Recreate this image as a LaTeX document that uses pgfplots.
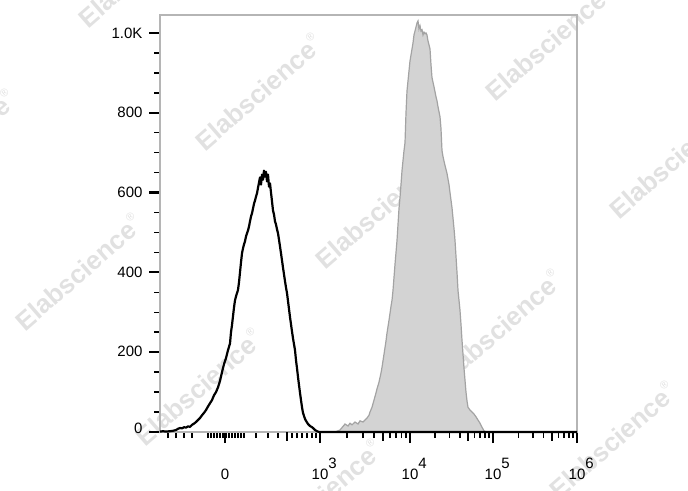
\documentclass[border=0pt]{standalone}
\usepackage{fontspec}
\setmainfont{Liberation Sans}
\usepackage{pgfplots}
\pgfplotsset{compat=1.18}
\definecolor{wm}{HTML}{E1E1E1}
\definecolor{fillg}{HTML}{D3D3D3}
\definecolor{lineg}{HTML}{A3A3A3}
\definecolor{framec}{HTML}{B5B5B5}
\newcommand\wmark[2]{\node[rotate=41, text=wm, inner sep=0pt, font=\fontsize{26}{30}\selectfont\bfseries] at (#1pt,{(490-#2)*1pt}) {Elabscience\raisebox{14pt}{\fontsize{11}{11}\selectfont\mdseries ®}};}
\newcommand\expo[2]{#1\rlap{\raisebox{11pt}{#2}}}
\begin{document}
\begin{tikzpicture}
\useasboundingbox (0,0) rectangle (688pt,490pt);
\wmark{258}{92}
\wmark{548}{42}
\wmark{141}{-31}
\wmark{-48}{148}
\wmark{672}{160}
\wmark{378}{210}
\wmark{78}{272}
\wmark{498}{328}
\wmark{198}{387}
\wmark{612}{440}
\wmark{318}{498}
\begin{axis}[
  at={(160pt,58pt)}, anchor=south west,
  scale only axis, width=417pt, height=417pt,
  xmin=160, xmax=577, ymin=0, ymax=1045,
  clip=false,
  axis line style={draw=framec, line width=1.5pt},
  tick style={black, line width=2.2pt},
  minor tick style={black, line width=1.5pt},
  tick align=outside,
  major tick length=11pt, minor tick length=6pt,
  xtick pos=bottom, ytick pos=left,
  ytick={0,200,400,600,800,1000},
  yticklabels={\raisebox{8pt}{0},\raisebox{1pt}{200},400,\raisebox{-2pt}{600},\raisebox{-4pt}{800},\raisebox{-6pt}{1.0K}},
  minor y tick num=3,
  xtick={225,320,410,493,577},
  xticklabels={0,\expo{10}{3},\expo{10}{4},\expo{10}{5},\expo{10}{6}},
  minor xtick={168,176,184,192,208,211,214,217,220,223,226,229,232,235,238,241,244,256,268,278,292,297,302,307,312,316,347.1,362.9,374.2,390.0,396.1,401.3,405.9,435.0,449.6,460.0,474.6,480.1,484.9,489.2,518.3,533.1,543.6,558.4,564.0,568.9,573.1},
  extra x ticks={287,382.9,468,551.7},
  extra x tick labels={},
  extra x tick style={major tick length=8.5pt, tick style={black,line width=1.6pt}},
  ticklabel style={font=\fontsize{15}{18}\selectfont},
  xticklabel style={anchor=base, yshift=-36pt},
  yticklabel style={xshift=-3pt},
]
\addplot[fill=fillg, draw=lineg, line width=1.2pt] coordinates {
(335,0) (340,5) (345,20) (348,15) (350,22) (352,18) (355,25) (358,20) (360,28) (363,25) (365,30) (367,35) (369,42) (370,50) (372,62) (374,80) (376,98) (377,108) (379,125) (381,148) (382,162) (384,195) (386,228) (387,248) (389,280) (391,315) (392,330) (393,355) (395,420) (397,480) (399,560) (400,588) (401,620) (402,655) (403,680) (404,705) (405,725) (406,800) (407,855) (408,880) (409,905) (410,930) (411,945) (412,960) (413,975) (414,995) (415,1005) (416,1015) (417,1025) (418,1030) (419,1010) (420,1018) (421,1005) (422,1008) (423,995) (424,1002) (425,998) (426,1000) (427,995) (428,980) (429,970) (430,960) (431,920) (432,888) (434,865) (436,840) (437,830) (438,815) (440,790) (441,760) (442,705) (443,690) (445,668) (447,648) (449,620) (450,600) (452,562) (454,510) (455,480) (456,440) (457,400) (458,355) (459,330) (460,305) (461,270) (462,230) (463,195) (464,160) (465,130) (466,100) (467,78) (468,62) (470,55) (472,50) (474,45) (476,38) (478,30) (480,22) (482,12) (484,3) (486,0)
} \closedcycle;
\addplot[black, line width=2.2pt, line join=round] coordinates {
(160,1) (163,2) (166,1) (170,2) (173,3) (176,5) (178,8) (180,10) (182,9) (184,12) (186,11) (188,14) (190,13) (192,18) (194,21) (196,25) (198,30) (200,35) (202,42) (204,48) (206,55) (208,64) (210,72) (212,80) (214,92) (216,100) (218,112) (220,128) (222,150) (224,170) (226,185) (228,205) (230,222) (231,250) (232,268) (233,290) (234,312) (235,330) (236,340) (237,348) (238,356) (239,375) (240,400) (241,425) (242,448) (243,460) (244,470) (245,478) (246,490) (247,498) (248,505) (249,515) (250,528) (251,540) (252,548) (253,560) (254,572) (255,580) (256,590) (257,598) (258,612) (259,625) (260,638) (261,620) (262,645) (263,632) (264,655) (265,640) (266,652) (267,628) (268,645) (269,615) (270,623) (271,600) (272,578) (273,555) (274,545) (275,528) (276,520) (277,508) (278,498) (279,482) (280,465) (281,448) (282,430) (283,412) (284,395) (285,378) (286,362) (287,348) (288,328) (289,308) (290,288) (291,270) (292,252) (293,235) (294,220) (295,205) (296,180) (297,160) (298,138) (299,118) (300,98) (301,80) (302,62) (303,48) (304,40) (305,33) (306,28) (307,24) (308,20) (310,15) (312,12) (313,10) (315,5) (317,2) (319,0) (400,0) (577,0)
};
\end{axis}
\end{tikzpicture}
\end{document}
